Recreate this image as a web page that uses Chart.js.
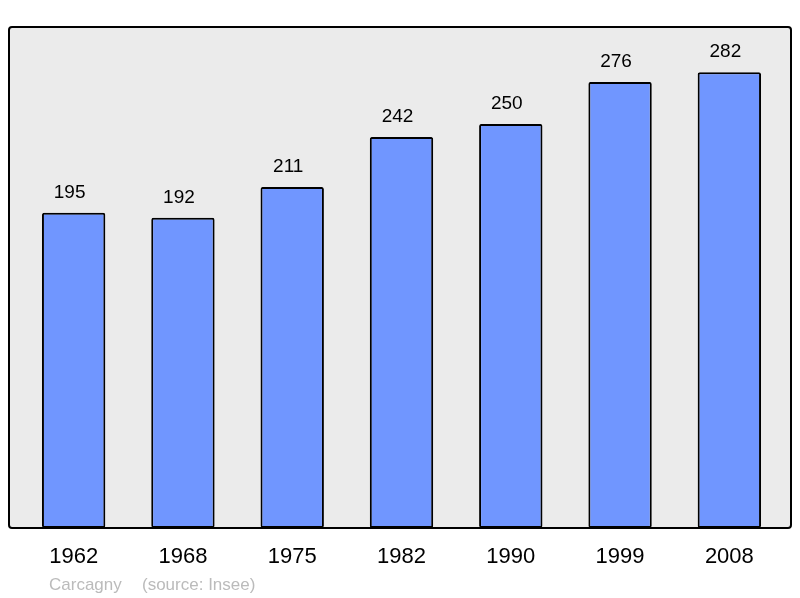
<!DOCTYPE html>
<html><head><meta charset="utf-8">
<script src="https://cdn.jsdelivr.net/npm/chart.js@4"></script>
<style>html,body{margin:0;padding:0;background:#fff}#w{width:800px;height:598px;position:relative}</style>
</head><body><div id="w"><canvas id="c"></canvas></div>
<script>
const years = ['1962','1968','1975','1982','1990','1999','2008'];
const population = [195,192,211,242,250,276,282];
const commune = 'Carcagny';
const source = '(source: Insee)';

const FONT = '"Liberation Sans", Arial, sans-serif';

const deco = {
  id: 'deco',
  beforeDatasetsDraw(chart) {
    const {ctx, chartArea: a} = chart;
    ctx.save();
    ctx.fillStyle = '#ebebeb';
    ctx.beginPath();
    ctx.roundRect(9, a.top, 782, a.bottom - a.top, 3);
    ctx.fill();
    ctx.restore();
  },
  afterDatasetsDraw(chart) {
    const {ctx, chartArea: a, scales} = chart;
    ctx.save();
    ctx.strokeStyle = '#000';
    ctx.lineWidth = 2;
    ctx.beginPath();
    ctx.roundRect(9, a.top, 782, a.bottom - a.top, 3);
    ctx.stroke();
    ctx.fillStyle = '#000';
    ctx.textAlign = 'center';
    ctx.textBaseline = 'middle';
    const meta = chart.getDatasetMeta(0);
    ctx.font = '19px ' + FONT;
    meta.data.forEach((bar, i) => {
      ctx.fillText(String(population[i]), bar.x - 4, bar.y - 20);
    });
    ctx.font = '22px ' + FONT;
    years.forEach((y, i) => {
      ctx.fillText(y, scales.x.getPixelForValue(i), 557);
    });
    ctx.fillStyle = '#bbbbbb';
    ctx.font = '17px ' + FONT;
    ctx.textAlign = 'left';
    ctx.fillText(commune, 49, 585);
    ctx.fillText(source, 142, 585);
    ctx.restore();
  }
};

new Chart(document.getElementById('c'), {
  type: 'bar',
  data: {
    labels: years,
    datasets: [{
      data: population,
      backgroundColor: '#7096ff',
      borderColor: '#000',
      borderWidth: 2,
      borderRadius: 2,
      borderSkipped: false,
      barPercentage: 0.58,
      categoryPercentage: 1
    }]
  },
  options: {
    responsive: true,
    maintainAspectRatio: false,
    animation: false,
    layout: {padding: {left: 19, right: 16, top: 27, bottom: 70}},
    plugins: {legend: {display: false}, tooltip: {enabled: false}},
    scales: {
      x: {display: false},
      y: {display: false, min: 0, max: 310}
    }
  },
  plugins: [deco]
});
</script>
</body></html>
